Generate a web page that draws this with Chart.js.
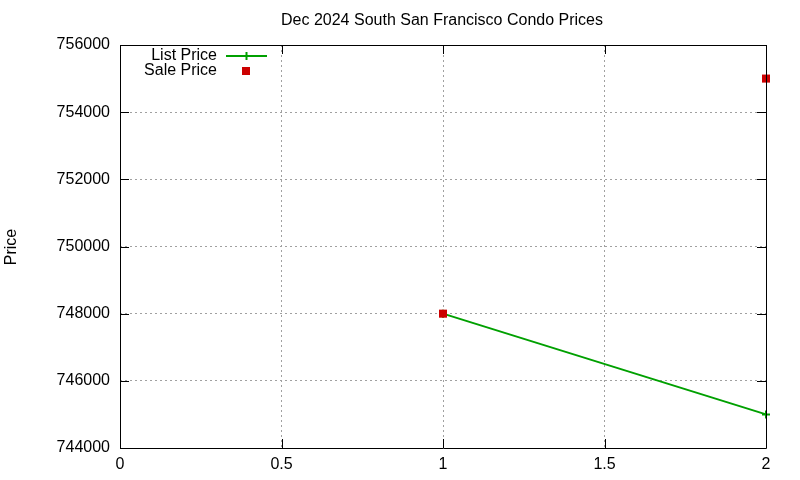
<!DOCTYPE html>
<html><head><meta charset="utf-8">
<script src="https://cdn.jsdelivr.net/npm/chart.js@4/dist/chart.umd.min.js"></script>
<style>html,body{margin:0;padding:0;background:#fff}canvas{display:block}</style>
</head><body>
<canvas id="c" width="800" height="480"></canvas>
<script>
const chartTitle = 'Dec 2024 South San Francisco Condo Prices';
const yAxisTitle = 'Price';
const xValues = [1, 2];
const listPrice = [748000, 745000];
const salePrice = [748000, 755000];
const seriesNames = ['List Price', 'Sale Price'];
const xTickLabels = ['0', '0.5', '1', '1.5', '2'];

const FONT = '"Liberation Sans", Arial, sans-serif';
const GREEN = '#00a000';
const RED = '#cc0000';

const frame = {
  id: 'frame',
  afterDraw(chart) {
    const {ctx, chartArea: a, scales} = chart;
    ctx.save();
    ctx.strokeStyle = '#000';
    ctx.lineWidth = 1;
    ctx.beginPath();
    ctx.rect(Math.round(a.left) + 0.5, Math.round(a.top) + 0.5, Math.round(a.right - a.left), Math.round(a.bottom - a.top));
    ctx.stroke();
    const tl = 9;
    ctx.beginPath();
    scales.x.ticks.forEach(t => {
      const px = Math.round(scales.x.getPixelForValue(t.value)) + 0.5;
      ctx.moveTo(px, a.bottom); ctx.lineTo(px, a.bottom - tl);
      ctx.moveTo(px, a.top); ctx.lineTo(px, a.top + tl);
    });
    scales.y.ticks.forEach(t => {
      const py = Math.round(scales.y.getPixelForValue(t.value)) + 0.5;
      ctx.moveTo(a.left, py); ctx.lineTo(a.left + tl, py);
      ctx.moveTo(a.right, py); ctx.lineTo(a.right - tl, py);
    });
    ctx.stroke();
    // title
    ctx.fillStyle = '#000';
    ctx.font = '16px ' + FONT;
    ctx.textAlign = 'center';
    ctx.textBaseline = 'middle';
    ctx.fillText(chartTitle, 442, 21);
    // y title
    ctx.save();
    ctx.translate(12, 247);
    ctx.rotate(-Math.PI / 2);
    ctx.fillText(yAxisTitle, 0, 0);
    ctx.restore();
    // legend
    ctx.textAlign = 'right';
    ctx.fillText(seriesNames[0], 217, 56);
    ctx.fillText(seriesNames[1], 217, 71);
    ctx.strokeStyle = GREEN;
    ctx.lineWidth = 2;
    ctx.beginPath();
    ctx.moveTo(226, 56); ctx.lineTo(267, 56);
    ctx.moveTo(246.5, 52); ctx.lineTo(246.5, 60);
    ctx.stroke();
    ctx.fillStyle = RED;
    ctx.fillRect(242, 67, 8, 8);
    ctx.restore();
  }
};

new Chart(document.getElementById('c'), {
  type: 'scatter',
  data: {
    datasets: [
      {
        label: seriesNames[0],
        data: xValues.map((x, i) => ({x, y: listPrice[i]})),
        showLine: true,
        order: 1,
        borderColor: GREEN,
        backgroundColor: GREEN,
        borderWidth: 2,
        pointStyle: 'cross',
        pointRadius: 4,
        pointBorderWidth: 2,
        pointHoverRadius: 4,
        clip: false
      },
      {
        label: seriesNames[1],
        data: xValues.map((x, i) => ({x, y: salePrice[i]})),
        showLine: false,
        order: 0,
        borderColor: RED,
        backgroundColor: RED,
        pointStyle: 'rect',
        pointRadius: 5.7,
        pointBorderWidth: 0,
        pointHoverRadius: 5.7,
        clip: false
      }
    ]
  },
  options: {
    responsive: false,
    animation: false,
    devicePixelRatio: 1,
    layout: {padding: {top: 45, right: 34, bottom: 0, left: 0}},
    plugins: {legend: {display: false}, title: {display: false}, tooltip: {enabled: false}},
    scales: {
      x: {
        type: 'linear', min: 0, max: 2,
        border: {display: false},
        grid: {color: '#a0a0a0', lineWidth: 1, drawTicks: false},
        ticks: {stepSize: 0.5, color: '#000', font: {family: FONT, size: 16}, padding: 7,
          callback: (v, i) => xTickLabels[i] !== undefined ? xTickLabels[i] : v},
        afterFit: s => { s.height = 32; }
      },
      y: {
        type: 'linear', min: 744000, max: 756000,
        border: {display: false},
        grid: {color: '#a0a0a0', lineWidth: 1, drawTicks: false},
        ticks: {stepSize: 2000, color: '#000', font: {family: FONT, size: 16}, padding: 10,
          callback: v => String(v)},
        afterFit: s => { s.width = 120; }
      }
    }
  },
  plugins: [{
    id: 'dashgrid',
    beforeDraw(chart) {
      ['x', 'y'].forEach(k => {
        chart.scales[k].options.border.dash = [2, 3];
      });
    }
  }, frame]
});
</script>
</body></html>
